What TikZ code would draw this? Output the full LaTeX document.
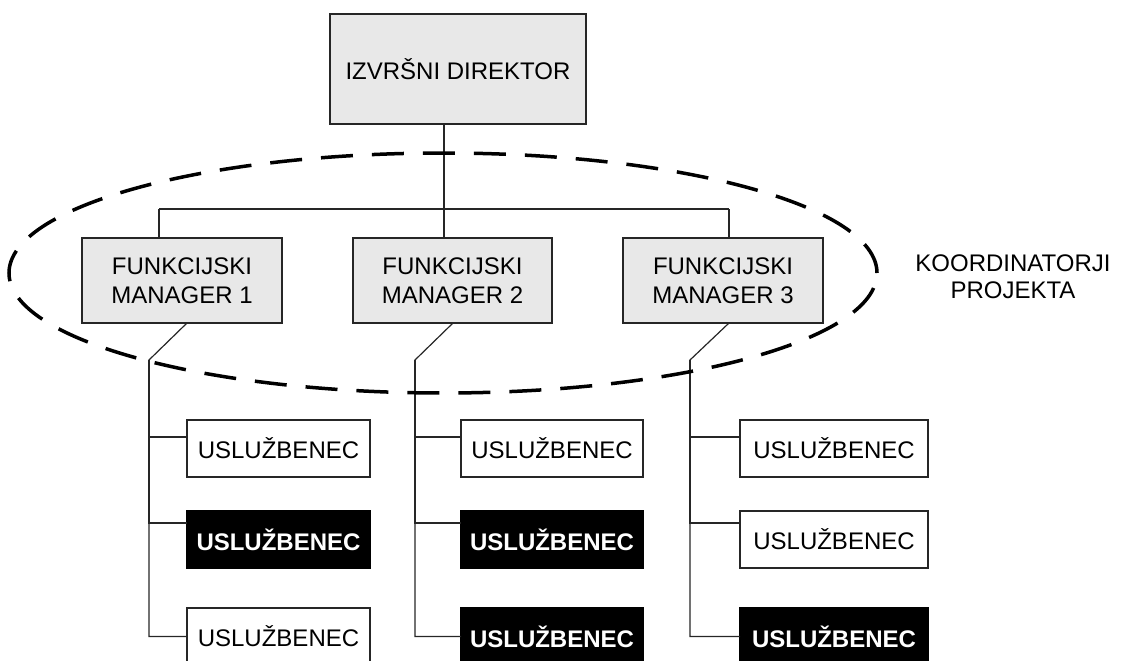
\documentclass[tikz,border=0pt]{standalone}
\usepackage{fontspec}
\setmainfont{Liberation Sans}
\begin{document}
\begin{tikzpicture}[x=1pt,y=-1pt,
  every node/.style={inner sep=0pt,outer sep=0pt},
  gbox/.style={draw=black!85,line width=1.2pt,fill=black!9,align=center,
    font=\fontsize{24}{28.5}\selectfont},
  wbox/.style={draw=black!85,line width=1.2pt,fill=white,minimum height=57pt,
    font=\fontsize{24}{28}\selectfont},
  bbox/.style={draw=black,line width=1.2pt,fill=black,text=white,minimum height=57pt,
    font=\fontsize{24}{28}\selectfont\bfseries},
  link/.style={draw=black!85,line width=1.2pt},
  ring/.style={draw=black,line width=3.5pt,dash pattern=on 32pt off 19pt}]
\useasboundingbox (0,0) rectangle (1127,661);
\clip (0,0) rectangle (1127,661);

% top level
\node[gbox,minimum width=256pt,minimum height=110pt] (dir) at (458,69) {IZVRŠNI DIREKTOR};

% managers
\node[gbox,minimum width=200pt,minimum height=85pt] (m1) at (182,280.5) {FUNKCIJSKI\\MANAGER 1};
\node[gbox,minimum width=199pt,minimum height=85pt] (m2) at (452.5,280.5) {FUNKCIJSKI\\MANAGER 2};
\node[gbox,minimum width=200pt,minimum height=85pt] (m3) at (723,280.5) {FUNKCIJSKI\\MANAGER 3};

% employees
\node[wbox,minimum width=183pt] (e11) at (278.5,448.5) {USLUŽBENEC};
\node[bbox,minimum width=183pt] (e12) at (278.5,539.5) {USLUŽBENEC};
\node[wbox,minimum width=183pt] (e13) at (278.5,636.5) {USLUŽBENEC};
\node[wbox,minimum width=182pt] (e21) at (552,448.5) {USLUŽBENEC};
\node[bbox,minimum width=182pt] (e22) at (552,539.5) {USLUŽBENEC};
\node[bbox,minimum width=182pt] (e23) at (552,636.5) {USLUŽBENEC};
\node[wbox,minimum width=188pt] (e31) at (834,448.5) {USLUŽBENEC};
\node[wbox,minimum width=188pt] (e32) at (834,539.5) {USLUŽBENEC};
\node[bbox,minimum width=188pt] (e33) at (834,636.5) {USLUŽBENEC};

% label
\node[align=center,font=\fontsize{24}{27}\selectfont] (lbl) at (1013,276.5) {KOORDINATORJI\\PROJEKTA};

% bus
\coordinate (b1) at (159,209);
\coordinate (b2) at (444,209);
\coordinate (b3) at (729,209);
\draw[link] (b1) -- (b3);
\draw[link] (dir.south -| b2) -- (b2 |- m2.north);
\draw[link] (b1) -- (b1 |- m1.north);
\draw[link] (b3) -- (b3 |- m3.north);

% trunks
\coordinate (k1) at (149,360);
\coordinate (k2) at (415,360);
\coordinate (k3) at (690,360);
\draw[link] ([xshift=5pt]m1.south) -- (k1) |- (e13.west);
\draw[link] (k1) |- ([yshift=11.5pt]e11.west);
\draw[link] (k1) |- ([yshift=16.5pt]e12.west);
\draw[link] ([xshift=0.5pt]m2.south) -- (k2) |- (e23.west);
\draw[link] (k2) |- ([yshift=11.5pt]e21.west);
\draw[link] (k2) |- ([yshift=16.5pt]e22.west);
\draw[link] ([xshift=6pt]m3.south) -- (k3) |- (e33.west);
\draw[link] (k3) |- ([yshift=11.5pt]e31.west);
\draw[link] (k3) |- ([yshift=16.5pt]e32.west);

% coordinators ring
\draw[ring] (443,273) ellipse [x radius=434pt, y radius=120pt];
\end{tikzpicture}
\end{document}
